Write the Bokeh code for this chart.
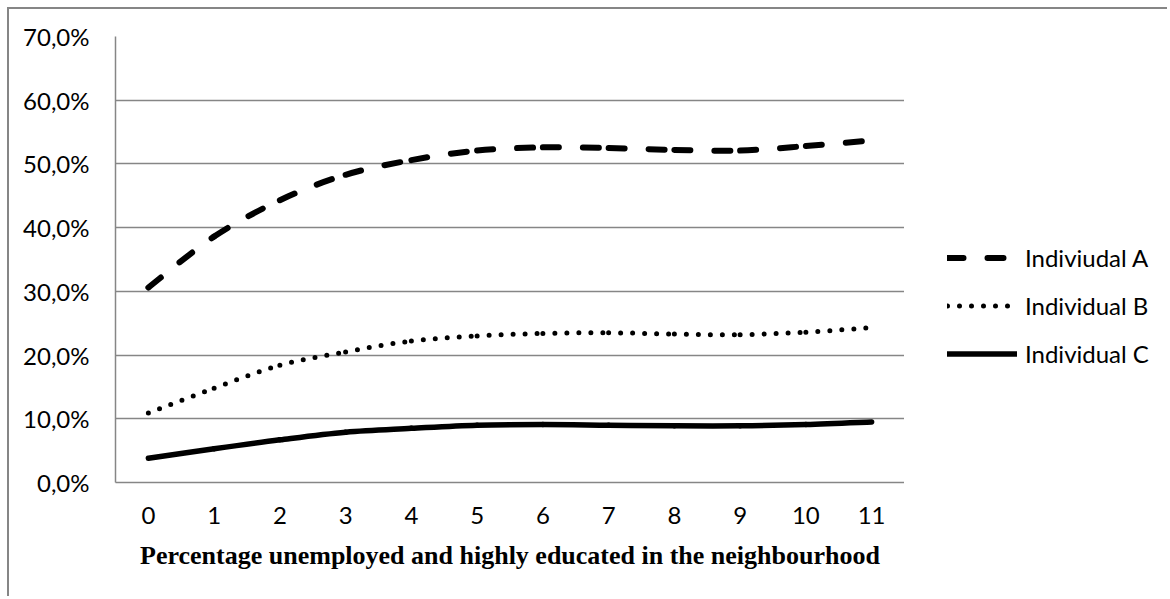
from bokeh.plotting import figure
from bokeh.layouts import row
from bokeh.models import Legend, LegendItem, FixedTicker, Range1d
from bokeh.embed import file_html
from bokeh.resources import INLINE

# ---- data (percent) ----
categories = ["0", "1", "2", "3", "4", "5", "6", "7", "8", "9", "10", "11"]
individual_a = [30.6, 38.6, 44.3, 48.3, 50.6, 52.1, 52.6, 52.5, 52.2, 52.1, 52.8, 53.7]
individual_b = [10.9, 14.8, 18.4, 20.5, 22.2, 23.0, 23.4, 23.5, 23.3, 23.2, 23.6, 24.3]
individual_c = [3.8, 5.3, 6.7, 7.9, 8.5, 9.0, 9.1, 9.0, 8.9, 8.9, 9.1, 9.5]
series_names = ["Indiviudal A", "Individual B", "Individual C"]
y_tick_values = [0, 10, 20, 30, 40, 50, 60, 70]
y_tick_labels = ["0,0%", "10,0%", "20,0%", "30,0%", "40,0%", "50,0%", "60,0%", "70,0%"]
x_title = "Percentage unemployed and highly educated in the neighbourhood"

GRID = "#868686"
TICK_FONT = "Lato"

H = 589
MAIN_W = 895
LEG_W = 265

p = figure(width=MAIN_W, height=H, output_backend="svg", toolbar_location=None,
           x_range=Range1d(-0.5, 11.5), y_range=Range1d(0, 70),
           min_border_left=106, min_border_top=27, min_border_right=0,
           min_border_bottom=116, outline_line_color=None)

xs = list(range(len(categories)))
all_series = [individual_a, individual_b, individual_c]


def smooth_segments(ys):
    """Bezier segments (Catmull-Rom style, like Excel's smoothed lines)."""
    n = len(ys)
    out = dict(x0=[], y0=[], x1=[], y1=[], cx0=[], cy0=[], cx1=[], cy1=[])
    for i in range(n - 1):
        xm, ym = (xs[i - 1], ys[i - 1]) if i > 0 else (xs[i], ys[i])
        xp, yp = (xs[i + 2], ys[i + 2]) if i + 2 < n else (xs[i + 1], ys[i + 1])
        out["x0"].append(xs[i]); out["y0"].append(ys[i])
        out["x1"].append(xs[i + 1]); out["y1"].append(ys[i + 1])
        out["cx0"].append(xs[i] + (xs[i + 1] - xm) / 6.0)
        out["cy0"].append(ys[i] + (ys[i + 1] - ym) / 6.0)
        out["cx1"].append(xs[i + 1] - (xp - xs[i]) / 6.0)
        out["cy1"].append(ys[i + 1] - (yp - ys[i]) / 6.0)
    return out


styles = [
    dict(line_width=6, line_dash="16 24", line_cap="round"),
    dict(line_width=5, line_dash="0 12", line_cap="round"),
    dict(line_width=5.5, line_cap="round"),
]
for ys, st in zip(all_series, styles):
    p.bezier(source=smooth_segments(ys), x0="x0", y0="y0", x1="x1", y1="y1",
             cx0="cx0", cy0="cy0", cx1="cx1", cy1="cy1",
             line_color="black", **st)

# axes
p.xaxis.ticker = FixedTicker(ticks=xs)
p.xaxis.major_label_overrides = {i: c for i, c in zip(xs, categories)}
p.yaxis.ticker = FixedTicker(ticks=y_tick_values)
p.yaxis.major_label_overrides = {v: l for v, l in zip(y_tick_values, y_tick_labels)}
for ax in (p.xaxis[0], p.yaxis[0]):
    ax.major_tick_in = 0
    ax.major_tick_out = 0
    ax.minor_tick_line_color = None
    ax.axis_line_color = GRID
    ax.axis_line_width = 1.5
    ax.major_label_text_font = TICK_FONT
    ax.major_label_text_font_size = "24px"
    ax.major_label_text_color = "black"
p.yaxis.major_label_standoff = 26
p.xaxis.major_label_standoff = 24
p.xaxis.axis_label = x_title
p.xaxis.axis_label_text_font = "Liberation Serif"
p.xaxis.axis_label_text_font_style = "bold"
p.xaxis.axis_label_text_font_size = "26px"
p.xaxis.axis_label_text_color = "black"
p.xaxis.axis_label_standoff = 14

p.xgrid.grid_line_color = None
p.ygrid.ticker = FixedTicker(ticks=y_tick_values)
p.ygrid.grid_line_color = GRID
p.ygrid.grid_line_width = 1.5

# legend panel (separate figure to the right of the plot); its series lines
# lie outside its (empty) visible range, so only the legend shows.
lp = figure(width=LEG_W, height=H, output_backend="svg", toolbar_location=None,
            x_range=Range1d(0, 1), y_range=Range1d(-2, -1),
            x_axis_type=None, y_axis_type=None, outline_line_color=None,
            min_border_left=0, min_border_right=0, min_border_top=0,
            min_border_bottom=0)
lp.grid.visible = False
leg_renderers = [lp.line(x=xs, y=ys, line_color="black", **st)
                 for ys, st in zip(all_series, styles)]

legend = Legend(items=[LegendItem(label=n, renderers=[r]) for n, r in zip(series_names, leg_renderers)],
                location=(43, 114), orientation="vertical",
                glyph_width=70, glyph_height=27, label_height=27, spacing=19,
                label_standoff=8, padding=0, margin=0,
                border_line_color=None, background_fill_alpha=0,
                label_text_font=TICK_FONT, label_text_font_size="24px",
                label_text_color="black")
lp.add_layout(legend)

layout = row(p, lp, styles={"margin-left": "9px", "margin-top": "9px",
                            "box-shadow": "-2px -2px 0 0 #868686"})

open("out.html", "w").write(file_html(layout, INLINE))
